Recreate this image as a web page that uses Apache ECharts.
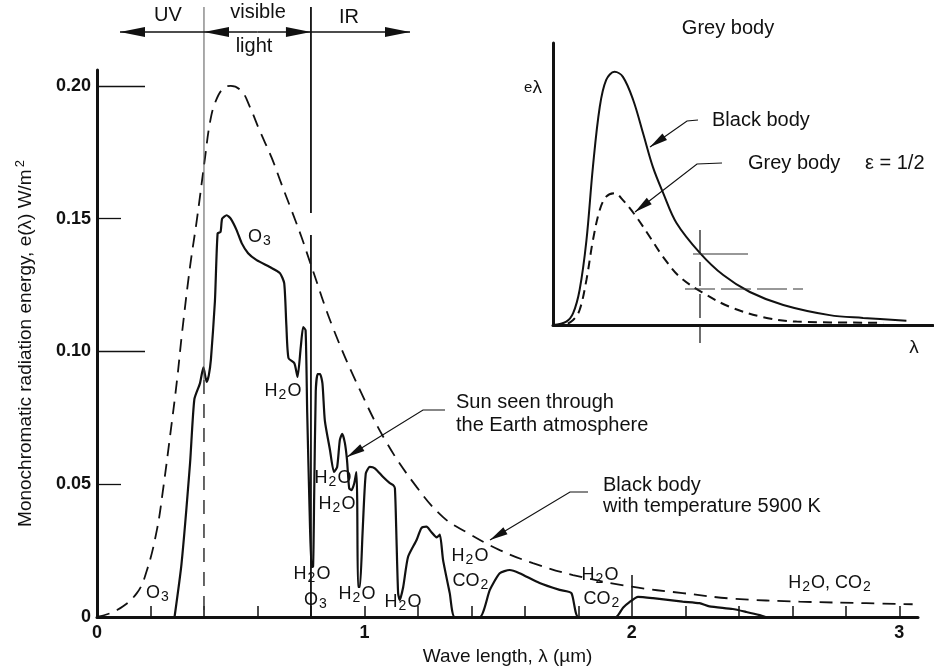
<!DOCTYPE html>
<html>
<head>
<meta charset="utf-8">
<title>Sun spectrum and black body</title>
<script src="https://cdn.jsdelivr.net/npm/echarts@6/dist/echarts.min.js"></script>
<style>
  html, body { margin: 0; padding: 0; background: #fff; }
  #chart { width: 934px; height: 671px; }
</style>
</head>
<body>
<div id="chart"></div>
<script>
// sun seen through the atmosphere (solid curve)
const solarWave = [0.29, 0.316, 0.348, 0.364, 0.385, 0.398, 0.41, 0.418, 0.426, 0.441, 0.451, 0.462, 0.468, 0.485, 0.5, 0.522, 0.541, 0.565, 0.597, 0.646, 0.684, 0.7, 0.708, 0.716, 0.738, 0.75, 0.762, 0.771, 0.78, 0.786, 0.795, 0.802, 0.808, 0.812, 0.818, 0.825, 0.834, 0.843, 0.852, 0.871, 0.886, 0.898, 0.908, 0.917, 0.927, 0.935, 0.943, 0.952, 0.962, 0.97, 0.973, 0.976, 0.983, 0.993, 1.005, 1.02, 1.039, 1.07, 1.095, 1.107, 1.114, 1.12, 1.126, 1.132, 1.145, 1.163, 1.195, 1.213, 1.232, 1.25, 1.27, 1.282, 1.294, 1.319, 1.338, 1.431, 1.469, 1.506, 1.543, 1.58, 1.655, 1.73, 1.774, 1.8, 1.94, 1.967, 1.99, 2.023, 2.079, 2.19, 2.253, 2.29, 2.377, 2.428, 2.478, 2.5];
const solarEnergy = [0, 0.02, 0.058, 0.082, 0.088, 0.094, 0.0885, 0.091, 0.097, 0.119, 0.1445, 0.145, 0.15, 0.1513, 0.15, 0.1457, 0.1408, 0.137, 0.1344, 0.1318, 0.1295, 0.1257, 0.11, 0.0975, 0.0956, 0.0904, 0.1017, 0.1092, 0.108, 0.077, 0.04, 0.0188, 0.019, 0.045, 0.085, 0.0915, 0.0915, 0.088, 0.074, 0.063, 0.0546, 0.0565, 0.0666, 0.069, 0.0655, 0.059, 0.0485, 0.0478, 0.0504, 0.0546, 0.044, 0.0113, 0.0113, 0.0316, 0.054, 0.0565, 0.056, 0.0527, 0.0504, 0.0497, 0.0485, 0.029, 0.009, 0.0064, 0.0113, 0.0226, 0.029, 0.0335, 0.034, 0.032, 0.03, 0.031, 0.0215, 0.009, 0, 0, 0.0102, 0.0165, 0.0177, 0.0165, 0.0128, 0.0102, 0.009, 0, 0, 0.0035, 0.0055, 0.0076, 0.0071, 0.0058, 0.0052, 0.004, 0.003, 0.0019, 0.0007, 0];

// black body 5900 K (dashed curve)
const bbWave = [0, 0.075, 0.149, 0.187, 0.224, 0.247, 0.273, 0.299, 0.318, 0.348, 0.374, 0.404, 0.422, 0.441, 0.471, 0.5, 0.541, 0.572, 0.609, 0.653, 0.69, 0.728, 0.765, 0.802, 0.882, 0.983, 1.084, 1.195, 1.293, 1.38, 1.506, 1.63, 1.78, 2.0, 2.19, 2.378, 2.627, 2.876, 3.05];
const bbEnergy = [0, 0.0026, 0.009, 0.0177, 0.0328, 0.048, 0.068, 0.089, 0.107, 0.132, 0.15, 0.173, 0.186, 0.1935, 0.199, 0.2, 0.198, 0.192, 0.183, 0.173, 0.163, 0.153, 0.143, 0.132, 0.109, 0.0855, 0.0655, 0.049, 0.0377, 0.032, 0.0252, 0.0203, 0.0158, 0.0114, 0.009, 0.0069, 0.0058, 0.0052, 0.0048];

// inset: black body vs grey body (arbitrary units)
const insetLambda = [0, 0.35, 0.53, 0.7, 0.88, 1.05, 1.23, 1.4, 1.62, 1.84, 2.11, 2.37, 2.63, 2.9, 3.25, 3.87, 4.48, 5.18, 6.06, 7.28, 8.16, 9.3];
const insetBlack = [0, 0.012, 0.042, 0.124, 0.3, 0.56, 0.773, 0.869, 0.898, 0.88, 0.798, 0.68, 0.56, 0.468, 0.362, 0.255, 0.177, 0.117, 0.071, 0.035, 0.025, 0.015];
const greyLambda = [0, 0.26, 0.53, 0.7, 0.88, 1.05, 1.23, 1.4, 1.62, 1.84, 2.19, 2.55, 2.9, 3.34, 3.96, 4.66, 5.53, 6.41, 8.69];
const greyValue = [0, 0, 0.018, 0.053, 0.16, 0.3, 0.408, 0.455, 0.467, 0.443, 0.384, 0.312, 0.241, 0.17, 0.113, 0.064, 0.028, 0.012, 0.008];

// axis ticks
const yTickValues = [0, 0.05, 0.1, 0.15, 0.2];
const yTickLabels = ['0', '0.05', '0.10', '0.15', '0.20'];
const yShortTicks = [0.05, 0.15];
const yLongTicks = [0.1, 0.2];
const xTickLabels = [0, 1, 2, 3];
const xMinorTicks = [0.2, 0.4, 0.6, 0.8, 1, 1.2, 1.4, 1.6, 1.8, 2, 2.2, 2.4, 2.6, 2.8, 3];
const xLongTicks = [2];

const FONT = '"Liberation Sans", Arial, sans-serif';
const INK = '#111';

const zip = (xs, ys) => xs.map((x, i) => [x, ys[i]]);

const text = (str, x, y, size, align, rich) => ({
    type: 'text', z: 20,
    style: {
        text: str, x: x, y: y,
        font: size + 'px ' + FONT, fill: INK,
        textAlign: align || 'left', textVerticalAlign: 'middle',
        align: align || 'left', verticalAlign: 'middle',
        rich: rich
    }
});

const subRich = { s: { font: '14px ' + FONT, padding: [9, 1, 0, 1] } };
const gas = (str, x, y) => text(str, x, y, 18, 'center', subRich);

const line = (pts, width, dash, color) => ({
    type: 'polyline', z: 15,
    shape: { points: pts },
    style: { stroke: color || INK, lineWidth: width, fill: null, lineDash: dash || null }
});

const arrow = (pts, len, half, width) => {
    const n = pts.length;
    const [x1, y1] = pts[n - 2];
    const [x2, y2] = pts[n - 1];
    const a = Math.atan2(y2 - y1, x2 - x1);
    const bx = x2 - len * Math.cos(a), by = y2 - len * Math.sin(a);
    const ox = -Math.sin(a) * half, oy = Math.cos(a) * half;
    return [
        line(pts, width),
        { type: 'polygon', z: 16, shape: { points: [[x2, y2], [bx + ox, by + oy], [bx - ox, by - oy]] }, style: { fill: INK } }
    ];
};

const make_chart = (dom_id) => {
    const chart = echarts.init(document.getElementById(dom_id));
    const axisLine = { show: true, lineStyle: { color: INK, width: 3 } };
    const option = {
        backgroundColor: '#fff',
        animation: false,
        grid: [
            { left: 97, right: 16, top: 70, bottom: 54 },
            { left: 553, top: 43, width: 380, height: 282 }
        ],
        xAxis: [
            {
                type: 'value', gridIndex: 0, min: 0, max: 3.07,
                axisLine: axisLine,
                splitLine: { show: false },
                axisTick: { inside: true, length: 11, customValues: xMinorTicks, lineStyle: { color: INK, width: 1.5 } },
                axisLabel: { customValues: xTickLabels, margin: 7, fontSize: 18, fontWeight: 'bold', fontFamily: FONT, color: INK },
                name: 'Wave length, λ (µm)', nameLocation: 'middle', nameGap: 27,
                nameTextStyle: { fontSize: 19, fontFamily: FONT, color: INK }
            },
            {
                type: 'value', gridIndex: 0, min: 0, max: 3.07, position: 'bottom',
                axisLine: { show: false }, splitLine: { show: false }, axisLabel: { show: false },
                axisTick: { inside: true, length: 42, customValues: xLongTicks, lineStyle: { color: INK, width: 1.5 } }
            },
            {
                type: 'value', gridIndex: 1, min: 0, max: 10,
                axisLine: axisLine, splitLine: { show: false },
                axisTick: { show: false }, axisLabel: { show: false }
            }
        ],
        yAxis: [
            {
                type: 'value', gridIndex: 0, min: 0, max: 0.206,
                axisLine: axisLine,
                splitLine: { show: false },
                axisTick: { inside: true, length: 24, customValues: yShortTicks, lineStyle: { color: INK, width: 1.3 } },
                axisLabel: {
                    customValues: yTickValues, margin: 6, fontSize: 18, fontWeight: 'bold', fontFamily: FONT, color: INK,
                    formatter: (v) => {
                        const i = yTickValues.findIndex((t) => Math.abs(t - v) < 1e-9);
                        return i < 0 ? '' : yTickLabels[i];
                    }
                },
                name: 'Monochromatic radiation energy, e(λ) W/m{sup|2}', nameLocation: 'middle', nameGap: 60,
                nameTextStyle: {
                    fontSize: 19, fontFamily: FONT, color: INK,
                    rich: { sup: { fontSize: 13, fontFamily: FONT, color: INK, padding: [0, 0, 10, 2] } }
                }
            },
            {
                type: 'value', gridIndex: 0, min: 0, max: 0.206, position: 'left',
                axisLine: { show: false }, splitLine: { show: false }, axisLabel: { show: false },
                axisTick: { inside: true, length: 48, customValues: yLongTicks, lineStyle: { color: INK, width: 1.3 } }
            },
            {
                type: 'value', gridIndex: 1, min: 0, max: 1,
                axisLine: axisLine, splitLine: { show: false },
                axisTick: { show: false }, axisLabel: { show: false }
            }
        ],
        series: [
            {
                name: 'Sun seen through the Earth atmosphere', type: 'line',
                xAxisIndex: 0, yAxisIndex: 0, data: zip(solarWave, solarEnergy),
                symbol: 'none', smooth: 0.2,
                lineStyle: { color: INK, width: 2.2 }
            },
            {
                name: 'Black body 5900 K', type: 'line',
                xAxisIndex: 0, yAxisIndex: 0, data: zip(bbWave, bbEnergy),
                symbol: 'none', smooth: 0.4,
                lineStyle: { color: INK, width: 1.8, type: [13, 8] }
            },
            {
                name: 'Black body', type: 'line',
                xAxisIndex: 2, yAxisIndex: 2, data: zip(insetLambda, insetBlack),
                symbol: 'none', smooth: 0.35,
                lineStyle: { color: INK, width: 2 }
            },
            {
                name: 'Grey body', type: 'line',
                xAxisIndex: 2, yAxisIndex: 2, data: zip(greyLambda, greyValue),
                symbol: 'none', smooth: 0.35,
                lineStyle: { color: INK, width: 2, type: [9, 6] }
            }
        ]
    };
    chart.setOption(option);

    // annotations, placed from the main axes
    const px = (v) => chart.convertToPixel({ xAxisIndex: 0 }, v);
    const py = (v) => chart.convertToPixel({ yAxisIndex: 0 }, v);
    const xUv = px(0.4), xIr = px(0.8), yBase = py(0);
    const yArrow = 32;
    const midVis = (xUv + xIr) / 2;

    let g = [];
    // spectrum boundaries
    g.push(line([[xUv, 7], [xUv, 380]], 1, null, '#555'));
    g.push(line([[xUv, 380], [xUv, yBase]], 1.5, [14, 10], '#333'));
    g.push(line([[xIr, 7], [xIr, 213]], 1.8));
    g.push(line([[xIr, 235], [xIr, yBase]], 1.8));
    // UV / visible / IR arrows
    g = g.concat(arrow([[xUv, yArrow], [120, yArrow]], 25, 5, 1.5));
    g = g.concat(arrow([[midVis, yArrow], [xUv, yArrow]], 25, 5, 1.5));
    g = g.concat(arrow([[midVis, yArrow], [xIr, yArrow]], 25, 5, 1.5));
    g = g.concat(arrow([[xIr, yArrow], [410, yArrow]], 25, 5, 1.5));
    g.push(text('UV', 168, 15, 20, 'center'));
    g.push(text('visible', 258, 12, 20, 'center'));
    g.push(text('light', 254, 46, 20, 'center'));
    g.push(text('IR', 349, 17, 20, 'center'));

    // curve call-outs
    g = g.concat(arrow([[445, 410], [423, 410], [347, 457]], 18, 4, 1.2));
    g.push(text('Sun seen through', 456, 402, 20));
    g.push(text('the Earth atmosphere', 456, 425, 20));
    g = g.concat(arrow([[588, 492], [570, 492], [490, 540]], 18, 4, 1.2));
    g.push(text('Black body', 603, 485, 20));
    g.push(text('with temperature 5900 K', 603, 506, 20));

    // absorption bands
    g.push(gas('O{s|3}', 260, 237));
    g.push(gas('H{s|2}O', 283, 391));
    g.push(gas('H{s|2}O', 333, 478));
    g.push(gas('H{s|2}O', 337, 504));
    g.push(gas('H{s|2}O', 312, 574));
    g.push(gas('O{s|3}', 316, 600));
    g.push(gas('H{s|2}O', 357, 594));
    g.push(gas('H{s|2}O', 403, 602));
    g.push(gas('O{s|3}', 158, 593));
    g.push(gas('H{s|2}O', 470, 556));
    g.push(gas('CO{s|2}', 471, 581));
    g.push(gas('H{s|2}O', 600, 575));
    g.push(gas('CO{s|2}', 602, 599));
    g.push(gas('H{s|2}O, CO{s|2}', 830, 583));

    // inset
    g.push(text('Grey body', 728, 28, 20, 'center'));
    g.push(text('{e|e}λ', 533, 88, 19, 'center', { e: { font: '15px ' + FONT } }));
    g.push(text('λ', 914, 348, 19, 'center'));
    g.push(text('Black body', 712, 120, 20));
    g.push(text('Grey body', 748, 163, 20));
    g.push(text('ε = 1/2', 865, 163, 20));
    g = g.concat(arrow([[698, 120], [687, 121], [650, 147]], 18, 4, 1.2));
    g = g.concat(arrow([[722, 163], [697, 164], [635, 212]], 18, 4, 1.2));
    g.push(line([[700, 230], [700, 343]], 1.3, [24, 8], '#222'));
    g.push(line([[693, 254], [748, 254]], 1.1, null, '#333'));
    g.push(line([[685, 289], [803, 289]], 1.1, [30, 6], '#333'));

    chart.setOption({ graphic: g });
};

make_chart('chart');
</script>
</body>
</html>
